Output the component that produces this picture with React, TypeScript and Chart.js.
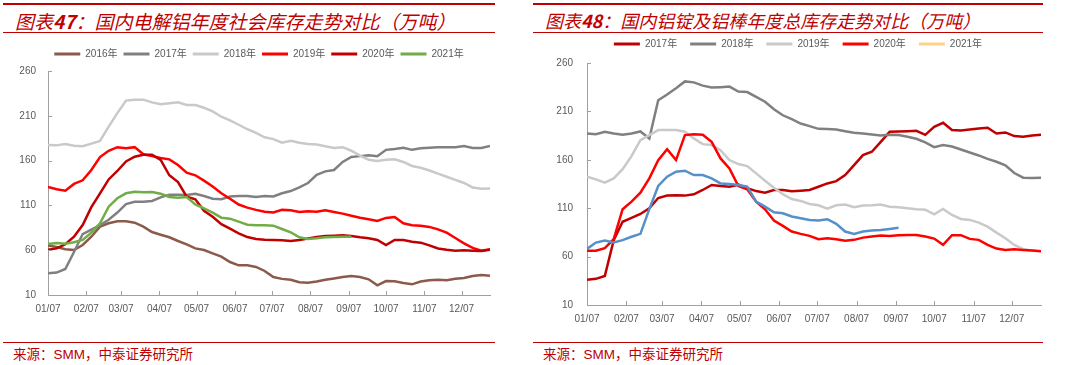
import React, { useEffect, useRef } from "react";
import { Chart, registerables } from "chart.js";

Chart.register(...registerables);

// ---------- categories ----------
const weeks = [
  "01/07", "01/14", "01/21", "01/28", "02/04", "02/11", "02/18", "02/25",
  "03/04", "03/11", "03/18", "03/25", "04/01", "04/08", "04/15", "04/22",
  "04/29", "05/06", "05/13", "05/20", "05/27", "06/03", "06/10", "06/17",
  "06/24", "07/01", "07/08", "07/15", "07/22", "07/29", "08/05", "08/12",
  "08/19", "08/26", "09/02", "09/09", "09/16", "09/23", "09/30", "10/07",
  "10/14", "10/21", "10/28", "11/04", "11/11", "11/18", "11/25", "12/02",
  "12/09", "12/16", "12/23", "12/30",
];
const monthTicks = [
  "01/07", "02/07", "03/07", "04/07", "05/07", "06/07",
  "07/07", "08/07", "09/07", "10/07", "11/07", "12/07",
];
const yTickMin = 10;
const yTickMax = 260;
const yTickStep = 50;

// ---------- left chart: 国内电解铝年度社会库存 ----------
const leftNames = ["2016年", "2017年", "2018年", "2019年", "2020年", "2021年"];
const left2016 = [65.4, 63.6, 61, 60.2, 65.8, 75, 86.3, 90, 92.2, 92.2, 90.7, 86.3, 80.3, 77.3, 74.4, 70.3, 66.6, 62, 60.2, 56.5, 52.8, 46.8, 43.1, 43.1, 41.3, 36.8, 30, 28, 27, 24.2, 23.8, 25, 27, 28.4, 30, 31.2, 30, 27.5, 20.8, 25.6, 25.3, 23.4, 21.9, 25, 26.4, 27.1, 26.4, 28.2, 29, 31.2, 32.3, 31.6];
const left2017 = [34.2, 35, 39, 58, 78, 83, 88, 94, 102, 111.5, 114, 114, 115, 119, 122, 122, 121.6, 123, 120.5, 117.5, 117, 120, 120.5, 120.5, 119.4, 120.5, 120, 123.5, 126, 130, 135, 144, 148, 149.5, 158.5, 164, 165, 166, 164.8, 172, 173, 174.4, 172, 173.7, 174.4, 174.8, 174.8, 175, 176.3, 174, 174, 176.3];
const left2018 = [177.4, 177, 178.5, 176.5, 176, 179, 182, 198, 213, 227, 228, 228, 225, 223, 224, 225, 222, 222, 219, 215, 209, 205, 200, 195, 191, 186, 184, 180, 182, 180, 178.5, 178, 176, 174, 175, 171, 165.5, 161, 159.6, 161, 161.5, 158.5, 154, 152, 149, 145.5, 142, 138.5, 135, 130, 128.5, 129];
const left2019 = [130.5, 128, 126.5, 134, 138, 149.5, 164, 171, 175, 173.7, 175, 167, 165, 163, 161.4, 155, 146.5, 143.6, 137.6, 131, 123.5, 117.5, 111, 107.5, 105, 103, 102, 105, 104.5, 102.6, 103.4, 103, 104.5, 102.6, 100.8, 98.5, 96.3, 94.5, 92.6, 96, 97, 90, 87.8, 87.4, 86, 83.3, 79.6, 73.6, 67.7, 62.5, 59.5, 61];
const left2020 = [60.6, 62, 66.6, 75, 88, 108, 123.5, 139, 148.4, 159, 164.4, 166.6, 166.6, 160.7, 143.6, 136, 119.8, 116.8, 104, 97.4, 89, 84, 78.8, 74.7, 72.5, 71.8, 71.4, 71, 70.3, 71.4, 73, 74.7, 75.9, 76.2, 76.6, 75.9, 74.4, 73.3, 71.4, 65.8, 71.4, 71.4, 69.5, 68.4, 65.4, 62, 60.6, 59.5, 60, 59.5, 59.1, 60.6];
const left2021 = [67, 68, 67.3, 68.8, 71.4, 79.6, 90, 108.6, 118, 123.5, 125.3, 124.6, 125, 123, 119.4, 118.6, 119.4, 111, 106.7, 101.9, 96.3, 95.2, 91.9, 88.5, 87.8, 87.8, 87.4, 83.7, 80, 74.4, 72.5, 73.3, 74.4, 74.7, 75, 75];
const leftColors = ["#8C5A4B", "#808080", "#C9C9C9", "#FF0000", "#C00000", "#70AD47"];

// ---------- right chart: 国内铝锭及铝棒年度总库存 ----------
const rightNames = ["2017年", "2018年", "2019年", "2020年", "2021年"];
const right2017 = [36, 37, 40, 77, 96, 100, 104, 110, 120.5, 123, 123.4, 123, 124.4, 128.8, 134, 132.9, 132.2, 134.3, 130.8, 127.7, 126, 128.8, 128.8, 127.4, 128, 128.8, 132.2, 135.6, 138, 144.2, 154.5, 164.8, 168.3, 178.6, 188.9, 189.3, 189.6, 190, 185.8, 194.1, 198.2, 190.7, 190.3, 191.4, 192.4, 193.1, 187.2, 188.3, 184.5, 183.8, 185.1, 185.8];
const right2018 = [187.2, 186.5, 189, 187.2, 185.8, 187.2, 189.3, 182, 221.5, 227.4, 234, 241, 240, 236.6, 234.6, 235, 235.6, 230.5, 230, 225, 220, 212.3, 206, 202, 197.5, 194.8, 192, 191.7, 191.3, 189.6, 187.9, 187.2, 186.2, 185.1, 185.8, 185.5, 183.8, 181.7, 178, 173.1, 175.2, 173.8, 170.7, 167.6, 164.5, 161, 158, 154.2, 146.3, 141.5, 141.2, 141.5];
const right2019 = [142.5, 139.8, 136.3, 140.8, 150.4, 163.8, 180.3, 185.5, 190.7, 190.7, 190.7, 189, 182.1, 176.2, 175.2, 170, 159.7, 155.6, 153.5, 146, 138.4, 131.2, 124.6, 119.5, 117.5, 114.4, 113, 109.6, 113, 113.7, 111, 112.7, 113, 113.7, 111.6, 111, 109.9, 108.9, 108.5, 103.7, 109.2, 103, 98.9, 97.9, 95.1, 91, 84.8, 79, 72.1, 67.6, 66.3, 65.6];
const right2020 = [66, 66, 68.7, 78, 108.9, 116.8, 126, 140.8, 159.7, 171, 159.7, 185.5, 186.5, 185.8, 178.6, 161.4, 151.1, 132.9, 129.5, 116.8, 108.9, 97.2, 91.7, 85.9, 83.5, 81.4, 77.9, 78.9, 77.9, 76.5, 77.3, 79.6, 80.7, 81.7, 81.4, 82.1, 82.4, 82.4, 80.7, 78.6, 72.1, 82.1, 82.1, 78.3, 77.3, 72.1, 68.3, 66.9, 67.6, 66.9, 66.3, 65.6];
const right2021 = [68, 74.5, 76.5, 74.5, 77, 80.5, 83.5, 109, 133, 142.5, 147.7, 148.7, 144.2, 144.2, 140.8, 135.6, 135, 133.9, 132.2, 116.8, 111.6, 105.8, 104.8, 101.4, 99.6, 97.9, 97.2, 98.6, 93.8, 85.9, 83.5, 85.9, 86.9, 87.6, 88.6, 89.7];
const rightColors = ["#C00000", "#808080", "#C9C9C9", "#FF0000", "#5590C8"];
const rightLegendColors = ["#C00000", "#808080", "#C9C9C9", "#FF0000", "#FFD08C"];

// ---------- helpers ----------
const CUM = [0, 31, 59, 90, 120, 151, 181, 212, 243, 273, 304, 334];
const toDay = (s: string) => {
  const [m, d] = s.split("/").map(Number);
  return CUM[m - 1] + d - 1;
};

const FONT = '"Liberation Sans", Arial, "Noto Sans CJK SC", sans-serif';
const AXIS = "#A0A0A0";
const TEXT = "#595959";
const RED = "#C00000";

const innerTicks = {
  id: "innerTicks",
  afterDraw(chart: any) {
    const { ctx, chartArea, scales } = chart;
    const x = scales.x;
    const y = scales.y;
    ctx.save();
    ctx.strokeStyle = AXIS;
    ctx.lineWidth = 1;
    ctx.beginPath();
    x.ticks.forEach((t: any) => {
      const px = Math.round(x.getPixelForValue(t.value)) + 0.5;
      ctx.moveTo(px, chartArea.bottom);
      ctx.lineTo(px, chartArea.bottom - 4);
    });
    y.ticks.forEach((t: any) => {
      const py = Math.round(y.getPixelForValue(t.value)) + 0.5;
      ctx.moveTo(chartArea.left, py);
      ctx.lineTo(chartArea.left + 4, py);
    });
    ctx.stroke();
    ctx.restore();
  },
};

const legendTweak = (extraH: number, dx: number) => ({
  id: "legendTweak",
  beforeInit(chart: any) {
    const lg = chart.legend;
    if (!lg) return;
    const orig = lg.fit;
    lg.fit = function () {
      orig.call(this);
      this.height += extraH;
    };
  },
  afterLayout(chart: any) {
    const lg = chart.legend;
    if (!lg) return;
    lg.left += dx;
    lg.right += dx;
  },
});

type Geo = {
  left: number; top: number; width: number; height: number;
  padRight: number; yWidth: number; yPad: number; xPad: number;
  legendPad: number; legendExtra: number; legendDx: number;
};

function LineChart(props: {
  names: string[]; series: number[][]; colors: string[]; legendColors: string[]; geo: Geo;
}) {
  const ref = useRef<HTMLCanvasElement | null>(null);
  useEffect(() => {
    const { names, series, colors, legendColors, geo } = props;
    const canvas = ref.current!;
    const n = series.length;
    const chart = new Chart(canvas, {
      type: "line",
      data: {
        datasets: series.map((vals, i) => ({
          label: names[i],
          data: vals.map((v, j) => ({ x: toDay(weeks[j]), y: v })),
          borderColor: colors[i],
          backgroundColor: colors[i],
          borderWidth: 2.5,
          pointRadius: 0,
          tension: 0,
          fill: false,
          order: n - i,
        })),
      },
      options: {
        animation: false,
        responsive: false,
        layout: { padding: { left: 0, right: geo.padRight, top: 0, bottom: 0 } },
        plugins: {
          tooltip: { enabled: false },
          legend: {
            position: "top",
            align: "center",
            labels: {
              boxWidth: 26,
              boxHeight: 3,
              padding: geo.legendPad,
              color: TEXT,
              font: { size: 10, family: FONT },
              sort: (a: any, b: any) => a.datasetIndex - b.datasetIndex,
              generateLabels: (c: any) => {
                const items = (Chart.defaults.plugins.legend.labels as any).generateLabels(c);
                items.forEach((it: any) => {
                  it.fillStyle = legendColors[it.datasetIndex];
                  it.strokeStyle = legendColors[it.datasetIndex];
                  it.lineWidth = 0;
                });
                return items;
              },
            },
          },
        },
        scales: {
          x: {
            type: "linear",
            min: toDay(weeks[0]),
            max: toDay(weeks[weeks.length - 1]),
            afterBuildTicks: (s: any) => {
              s.ticks = monthTicks.map((t) => ({ value: toDay(t) }));
            },
            afterFit: (s: any) => {
              s.height = 25;
            },
            ticks: {
              autoSkip: false,
              maxRotation: 0,
              padding: geo.xPad,
              color: TEXT,
              font: { size: 10, family: FONT },
              callback: (_v: any, idx: number) => monthTicks[idx],
            },
            grid: { display: false, drawTicks: false },
            border: { display: true, color: AXIS, width: 1 },
          },
          y: {
            min: yTickMin,
            max: yTickMax,
            afterFit: (s: any) => {
              s.width = geo.yWidth;
            },
            ticks: {
              stepSize: yTickStep,
              padding: geo.yPad,
              color: TEXT,
              font: { size: 10, family: FONT },
            },
            grid: { display: false, drawTicks: false },
            border: { display: true, color: AXIS, width: 1 },
          },
        },
      } as any,
      plugins: [innerTicks, legendTweak(geo.legendExtra, geo.legendDx)],
    });
    return () => chart.destroy();
  }, []);
  const g = props.geo;
  return (
    <canvas
      ref={ref}
      width={g.width}
      height={g.height}
      style={{ position: "absolute", left: g.left, top: g.top, width: g.width, height: g.height }}
    />
  );
}

function Panel(props: {
  x: number; w: number; titleX: number; titleSize: number; num: string; title: string;
}) {
  const { x, w, titleX, titleSize, num, title } = props;
  const cjk = '"Noto Sans CJK SC", sans-serif';
  return (
    <>
      <div style={{ position: "absolute", left: x, top: 3, width: w, height: 2, background: RED }} />
      <div
        style={{
          position: "absolute", left: titleX, top: 11, fontFamily: cjk, fontSize: titleSize,
          lineHeight: `${titleSize}px`, fontStyle: "italic", color: RED, whiteSpace: "nowrap",
        }}
      >
        图表<span style={{ fontWeight: 700 }}>{num}</span>：{title}
      </div>
      <div style={{ position: "absolute", left: x, top: 32, width: w, height: 1, background: RED }} />
      <div style={{ position: "absolute", left: x, top: 342, width: w, height: 1, background: RED }} />
      <div
        style={{
          position: "absolute", left: x + 10, top: 346, fontFamily: cjk, fontSize: 13.5,
          lineHeight: "14px", color: RED, whiteSpace: "nowrap",
        }}
      >
        来源：<span style={{ fontFamily: '"Liberation Sans", Arial, sans-serif' }}>SMM</span>，中泰证券研究所
      </div>
    </>
  );
}

export default function App() {
  return (
    <div
      style={{
        position: "fixed", left: 0, top: 0, width: 1080, height: 365,
        background: "#fff", overflow: "hidden",
      }}
    >
      <Panel x={3} w={492} titleX={15} titleSize={19} num="47" title="国内电解铝年度社会库存走势对比（万吨）" />
      <Panel x={533} w={510} titleX={545} titleSize={18} num="48" title="国内铝锭及铝棒年度总库存走势对比（万吨）" />
      <LineChart
        names={leftNames}
        series={[left2016, left2017, left2018, left2019, left2020, left2021]}
        colors={leftColors}
        legendColors={leftColors}
        geo={{
          left: 10, top: 43, width: 498, height: 277, padRight: 18, yWidth: 38, yPad: 12, xPad: 8,
          legendPad: 6, legendExtra: 2, legendDx: 9,
        }}
      />
      <LineChart
        names={rightNames}
        series={[right2017, right2018, right2019, right2020, right2021]}
        colors={rightColors}
        legendColors={rightLegendColors}
        geo={{
          left: 555, top: 26, width: 487, height: 304, padRight: 1, yWidth: 32, yPad: 14, xPad: 8,
          legendPad: 13, legendExtra: 4, legendDx: 0,
        }}
      />
    </div>
  );
}
